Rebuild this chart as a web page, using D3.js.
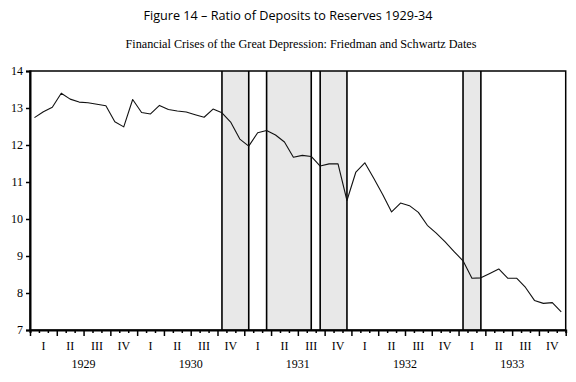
<!DOCTYPE html>
<html><head><meta charset="utf-8">
<script src="https://cdn.jsdelivr.net/npm/d3@7"></script>
<style>body{margin:0;background:#fff}svg{display:block}</style>
</head><body>
<script>
const years = ["1929","1930","1931","1932","1933"];
const quarters = ["I","II","III","IV"];
// monthly ratio of deposits to reserves, Jan 1929 .. Dec 1933
const ratio = [12.74,12.90,13.02,13.40,13.24,13.16,13.14,13.10,13.06,12.63,12.49,13.23,
               12.88,12.84,13.07,12.96,12.92,12.89,12.82,12.75,12.97,12.87,12.61,12.16,
               11.97,12.33,12.39,12.27,12.08,11.67,11.72,11.69,11.43,11.49,11.49,10.50,
               11.27,11.52,11.10,10.66,10.19,10.43,10.36,10.18,9.83,9.62,9.38,9.12,
               8.87,8.40,8.41,8.53,8.65,8.40,8.40,8.15,7.80,7.72,7.74,7.49];
// crisis periods (start month index, end month index)
const crisisStart = [21,26,32,48];
const crisisEnd   = [24,31,35,50];
const yTicks = [7,8,9,10,11,12,13,14];

const W=576,H=382;
const L=30,R=565.7,T=71,B=330;
const svg=d3.select("body").append("svg").attr("width",W).attr("height",H);
const x=d3.scaleLinear().domain([0,ratio.length]).range([L,R]);
const y=d3.scaleLinear().domain([7,14]).range([B,T]);

svg.append("text").attr("x",288).attr("y",20).attr("text-anchor","middle")
  .attr("font-family","'Open Sans',sans-serif").attr("font-size",12.2)
  .attr("textLength",289).attr("lengthAdjust","spacingAndGlyphs")
  .text("Figure 14 – Ratio of Deposits to Reserves 1929-34");
svg.append("text").attr("x",301).attr("y",48).attr("text-anchor","middle")
  .attr("font-family","'Liberation Serif',serif").attr("font-size",12)
  .attr("textLength",351).attr("lengthAdjust","spacingAndGlyphs")
  .text("Financial Crises of the Great Depression: Friedman and Schwartz Dates");

// shaded crises
const crises=crisisStart.map((s,i)=>({s,e:crisisEnd[i]}));
svg.selectAll("rect.crisis").data(crises).join("rect").attr("class","crisis")
  .attr("x",d=>x(d.s+0.5)).attr("width",d=>x(d.e+0.5)-x(d.s+0.5))
  .attr("y",T).attr("height",B-T).attr("fill","#e8e8e8");
const edges=crises.flatMap(d=>[d.s,d.e]);
svg.selectAll("line.edge").data(edges).join("line").attr("class","edge")
  .attr("x1",d=>x(d+0.5)).attr("x2",d=>x(d+0.5)).attr("y1",T).attr("y2",B)
  .attr("stroke","#000").attr("stroke-width",1.6);

// line
const line=d3.line().x((d,i)=>x(i+0.5)).y(d=>y(d));
svg.append("path").datum(ratio).attr("d",line).attr("fill","none")
  .attr("stroke","#111").attr("stroke-width",1.1).attr("stroke-linejoin","round");

// frame
svg.append("rect").attr("x",L).attr("y",T).attr("width",R-L).attr("height",B-T)
  .attr("fill","none").attr("stroke","#000").attr("stroke-width",1.5);

// y axis
const ya=svg.append("g").attr("transform",`translate(${L},0)`)
  .call(d3.axisLeft(y).tickValues(yTicks).tickSize(4).tickPadding(3).tickFormat(d3.format("d")));
ya.select(".domain").attr("stroke-width",2);
ya.selectAll(".tick line").attr("stroke-width",1.5);
ya.selectAll("text").attr("font-family","'Liberation Serif',serif").attr("font-size",12).attr("fill","#000");

// x axis ticks (month boundaries)
const xa=svg.append("g").attr("transform",`translate(0,${B})`)
  .call(d3.axisBottom(x).tickValues(d3.range(0,ratio.length+1)).tickSize(3).tickFormat(""));
xa.select(".domain").attr("stroke-width",2);
xa.selectAll(".tick line").attr("stroke-width",1.5).attr("y2",d=>d%3===0?6:3);

// quarter labels
const qData=d3.range(years.length*4).map(i=>({i,label:quarters[i%4]}));
svg.selectAll("text.q").data(qData).join("text").attr("class","q")
  .attr("x",d=>x(d.i*3+1.5)).attr("y",350).attr("text-anchor","middle")
  .attr("font-family","'Liberation Serif',serif").attr("font-size",12).text(d=>d.label);
svg.selectAll("text.yr").data(years).join("text").attr("class","yr")
  .attr("x",(d,i)=>x(i*12+6)).attr("y",368).attr("text-anchor","middle")
  .attr("font-family","'Liberation Serif',serif").attr("font-size",12).text(d=>d);
</script>
</body></html>
